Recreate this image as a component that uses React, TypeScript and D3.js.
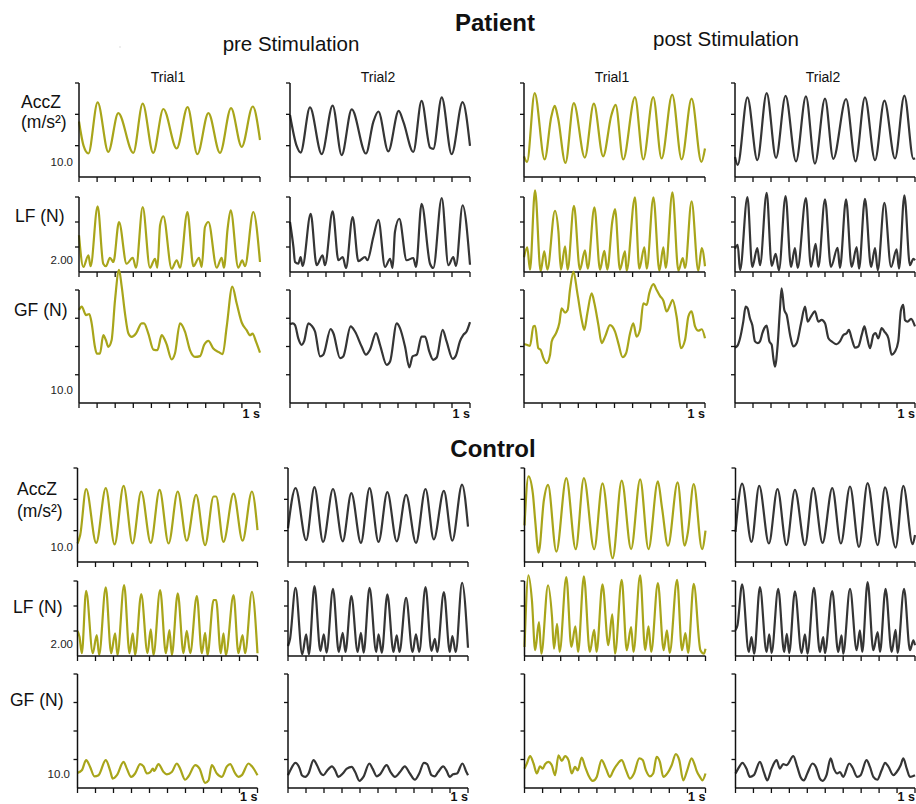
import { useEffect, useRef } from 'react';
import * as d3 from 'd3';

// time in ms (0-1000), value in y tick units
const P_PRE1_ACC = [[0,1.77],[25,1.0],[52,0.75],[103,2.38],[162,0.8],[217,2.04],[300,0.77],[352,2.34],[410,0.77],[466,2.17],[540,0.91],[600,2.23],[654,0.73],[715,2.04],[779,0.77],[840,2.2],[899,0.96],[960,2.25],[1000,1.18]];
const P_PRE2_ACC = [[0,1.98],[37,0.99],[59,0.78],[111,2.22],[176,0.73],[237,2.28],[287,0.7],[343,2.16],[422,0.75],[463,1.76],[491,2.09],[546,0.82],[604,2.11],[630,1.76],[685,0.8],[731,2.43],[778,0.94],[796,0.9],[843,2.54],[898,0.73],[959,2.39],[1000,0.99]];
const P_POST1_ACC = [[0,0.66],[17,0.48],[59,2.68],[114,0.56],[151,1.93],[170,2.27],[188,1.88],[229,0.45],[275,2.36],[336,0.62],[386,2.34],[437,0.66],[483,1.98],[506,2.3],[548,0.56],[613,2.55],[659,0.56],[714,2.55],[760,0.59],[819,2.63],[871,0.56],[926,2.5],[980,0.48],[1000,0.91]];
const P_POST2_ACC = [[0,0.64],[15,0.39],[69,2.54],[124,0.54],[176,2.68],[228,0.61],[281,2.59],[339,0.5],[394,2.57],[444,0.43],[500,2.5],[546,0.58],[617,2.49],[670,0.5],[722,2.54],[778,0.54],[830,2.44],[889,0.59],[941,2.6],[991,0.58],[1000,0.6]];

const P_PRE1_LF = [[0,1.47],[24,0.2],[52,0.67],[64,0.23],[103,2.63],[134,0.33],[149,0.23],[171,0.57],[190,0.4],[221,2.0],[263,0.33],[297,0.57],[315,0.17],[352,2.6],[392,0.17],[420,0.53],[433,0.17],[448,1.87],[466,2.23],[512,0.13],[540,0.47],[558,0.17],[599,2.4],[632,0.23],[663,0.57],[678,0.2],[696,1.8],[715,2.0],[761,0.17],[788,0.57],[801,0.17],[821,1.73],[838,2.47],[880,0.17],[902,0.47],[917,0.23],[963,2.4],[1000,0.4]];
const P_PRE2_LF = [[0,2.0],[19,1.0],[28,0.4],[46,0.33],[59,0.6],[70,0.24],[115,2.33],[148,0.27],[181,0.67],[194,0.27],[237,2.43],[269,0.47],[293,0.6],[311,0.16],[348,2.2],[380,0.43],[417,0.6],[430,0.47],[463,1.4],[491,2.09],[528,0.2],[556,0.53],[570,0.16],[583,1.6],[607,2.13],[648,0.47],[685,0.56],[700,0.2],[731,2.73],[778,0.33],[796,0.16],[843,2.96],[880,0.27],[907,0.6],[922,0.24],[959,2.67],[1000,0.29]];
const P_POST1_LF = [[0,0.59],[18,0.99],[33,0.09],[61,3.27],[92,0.03],[112,0.83],[129,0.09],[171,2.45],[190,1.63],[204,0.09],[227,1.03],[241,0.09],[276,2.65],[309,0.09],[337,0.87],[352,0.13],[389,2.59],[420,0.09],[444,0.85],[460,0.09],[488,2.03],[503,2.52],[530,0.09],[558,0.83],[567,0.05],[613,2.99],[637,0.13],[665,0.99],[678,0.13],[715,2.99],[748,0.05],[770,0.99],[783,0.16],[820,3.19],[853,0.05],[877,0.56],[890,0.16],[926,2.83],[963,0.05],[982,0.96],[1000,0.23]];
const P_POST2_LF = [[0,0.93],[15,1.09],[28,0.07],[69,3.0],[96,0.2],[124,0.96],[139,0.27],[176,3.17],[204,0.24],[226,0.73],[244,0.07],[281,3.04],[311,0.2],[333,0.96],[348,0.16],[394,2.96],[422,0.2],[448,1.13],[463,0.2],[500,2.91],[533,0.2],[570,0.97],[583,0.16],[617,2.91],[648,0.2],[676,1.0],[689,0.13],[722,2.93],[756,0.2],[778,0.96],[793,0.07],[830,2.77],[867,0.2],[898,0.91],[911,0.13],[941,3.07],[972,0.27],[991,0.53],[1000,0.47]];

const P_PRE1_GF = [[0,3.29],[15,3.41],[39,3.11],[57,3.15],[70,2.82],[88,1.99],[98,1.75],[116,1.75],[134,2.4],[149,2.22],[162,1.99],[180,2.22],[199,3.64],[221,4.71],[236,4.12],[254,3.17],[273,2.46],[291,2.34],[315,2.46],[346,2.82],[359,2.82],[383,2.46],[411,1.89],[433,1.87],[457,2.4],[475,2.22],[484,2.08],[512,1.54],[530,1.75],[558,2.82],[586,2.52],[613,1.87],[641,1.63],[669,1.66],[691,2.05],[715,2.2],[742,1.93],[770,1.81],[794,1.73],[816,2.7],[847,4.12],[871,3.53],[899,2.85],[926,2.58],[945,2.4],[959,2.46],[978,2.17],[1000,1.78]];
const P_PRE2_GF = [[0,2.79],[15,2.82],[28,2.76],[46,2.29],[65,2.06],[78,2.18],[102,2.82],[120,2.74],[139,2.53],[167,1.65],[185,1.71],[226,2.62],[241,2.47],[278,1.59],[296,1.65],[337,2.71],[361,2.53],[398,2.0],[422,1.71],[444,1.88],[478,2.47],[500,2.06],[537,1.35],[556,1.47],[593,2.82],[611,2.65],[639,2.0],[663,1.26],[681,1.65],[704,1.71],[731,2.35],[750,2.35],[774,1.82],[796,1.53],[815,1.61],[848,2.59],[870,2.18],[904,1.56],[922,1.68],[944,2.18],[963,2.41],[981,2.53],[1000,2.86]];
const P_POST1_GF = [[0,2.09],[15,2.06],[33,2.02],[52,2.71],[61,2.73],[79,1.94],[92,1.88],[107,1.59],[125,1.41],[144,1.71],[153,2.18],[177,2.47],[195,2.82],[208,3.35],[227,3.2],[241,3.29],[254,4.0],[273,4.65],[295,3.88],[319,2.94],[333,2.59],[350,3.18],[374,3.88],[389,3.53],[411,2.76],[429,2.12],[448,2.35],[475,2.76],[503,2.53],[521,2.12],[545,1.62],[564,1.76],[586,2.47],[604,2.82],[622,2.35],[641,2.59],[659,3.53],[678,3.47],[692,3.88],[715,4.21],[733,4.0],[751,3.79],[770,3.62],[788,3.24],[807,3.47],[821,3.65],[843,3.06],[867,1.94],[890,2.24],[908,3.06],[926,3.24],[945,2.71],[963,2.56],[982,2.61],[1000,2.29]];
const P_POST2_GF = [[0,1.96],[15,2.04],[28,2.29],[46,2.88],[59,3.41],[70,3.35],[83,3.0],[96,2.76],[111,2.18],[126,2.12],[139,2.18],[152,2.47],[163,2.65],[176,2.74],[191,2.18],[204,2.06],[213,1.59],[222,1.29],[237,2.06],[250,3.35],[259,4.06],[274,3.29],[287,3.12],[306,2.41],[324,2.0],[343,2.12],[367,2.82],[389,3.41],[404,2.88],[422,3.06],[444,3.24],[463,2.88],[481,2.94],[500,2.82],[519,2.29],[537,2.18],[565,2.08],[583,2.18],[602,2.41],[620,2.47],[633,2.59],[648,2.29],[667,1.96],[685,2.0],[704,2.41],[719,2.71],[731,2.41],[750,1.94],[769,2.41],[781,2.47],[796,2.29],[815,2.65],[830,2.53],[852,2.29],[870,1.71],[889,1.82],[907,2.18],[922,3.29],[935,3.47],[944,2.94],[959,2.88],[978,2.98],[1000,2.71]];

const C_PRE1_ACC = [[0,0.59],[15,0.86],[48,2.33],[104,0.61],[157,2.36],[206,0.56],[256,2.43],[306,0.59],[354,2.25],[407,0.61],[456,2.3],[506,0.59],[557,2.25],[607,0.68],[659,2.14],[709,0.54],[756,2.09],[770,2.09],[811,0.64],[867,2.18],[917,0.68],[969,2.25],[1000,1.02]];
const C_PRE2_ACC = [[0,1.07],[42,2.36],[101,0.7],[147,2.39],[195,0.64],[250,2.33],[304,0.66],[352,2.2],[405,0.61],[453,2.36],[503,0.64],[552,2.23],[604,0.66],[656,2.14],[711,0.61],[764,2.33],[810,0.72],[866,2.27],[913,0.68],[967,2.47],[1000,1.13]];
const C_POST1_ACC = [[0,1.17],[22,2.73],[46,2.19],[59,1.33],[78,0.3],[107,1.97],[130,2.46],[176,0.33],[231,2.68],[283,0.41],[328,2.68],[385,0.41],[431,2.51],[487,0.12],[537,2.6],[589,0.41],[639,2.64],[685,0.41],[737,2.57],[759,1.76],[793,0.52],[846,2.54],[885,0.52],[902,0.92],[935,2.49],[981,0.41],[1000,1.0]];
const C_POST2_ACC = [[0,0.96],[37,2.5],[89,0.64],[132,2.43],[186,0.59],[234,2.33],[284,0.54],[331,2.3],[387,0.54],[433,2.36],[485,0.61],[539,2.36],[587,0.59],[638,2.41],[688,0.48],[736,2.52],[792,0.54],[833,2.38],[892,0.46],[935,2.43],[987,0.57],[1000,0.86]];

const C_PRE1_LF = [[0,1.0],[11,0.77],[24,0.11],[48,2.61],[85,0.11],[107,0.84],[120,0.04],[157,2.75],[187,0.11],[209,0.91],[222,0.04],[259,2.84],[289,0.11],[307,0.91],[320,0.04],[354,2.48],[389,0.11],[407,1.07],[422,0.04],[459,2.64],[491,0.11],[511,1.04],[524,0.04],[557,2.51],[589,0.11],[607,1.01],[626,0.11],[663,2.4],[691,0.11],[709,0.93],[722,0.04],[756,2.24],[770,2.24],[796,0.11],[811,0.91],[824,0.04],[867,2.44],[894,0.11],[917,0.84],[931,0.11],[969,2.57],[1000,0.11]];
const C_PRE2_LF = [[0,0.4],[11,0.67],[42,2.73],[79,0.07],[101,0.87],[116,0.07],[147,2.8],[180,0.2],[199,0.87],[214,0.13],[250,2.69],[282,0.16],[304,0.93],[319,0.16],[352,2.4],[387,0.16],[405,0.93],[420,0.13],[453,2.73],[490,0.16],[503,0.87],[521,0.13],[552,2.47],[586,0.16],[604,0.83],[619,0.16],[656,2.33],[692,0.16],[711,0.87],[729,0.16],[764,2.76],[797,0.2],[816,0.69],[829,0.16],[866,2.56],[899,0.16],[913,0.8],[932,0.16],[967,2.93],[1000,0.33]];
const C_POST1_LF = [[0,0.36],[22,3.23],[41,2.23],[59,0.23],[80,1.36],[93,0.09],[130,2.83],[152,1.56],[163,0.29],[180,1.29],[194,0.16],[231,3.16],[259,0.36],[281,1.19],[296,0.16],[328,3.19],[361,0.16],[385,1.05],[398,0.16],[431,2.87],[463,0.43],[485,1.67],[500,0.09],[537,3.05],[565,0.23],[589,1.16],[602,0.16],[639,3.23],[667,0.23],[685,1.19],[700,0.16],[737,2.92],[769,0.23],[787,1.03],[802,0.12],[843,3.05],[870,0.23],[889,0.92],[904,0.12],[935,2.89],[972,0.23],[991,0.09],[1000,0.29]];
const C_POST2_LF = [[0,1.03],[11,1.23],[37,2.87],[74,0.16],[89,0.76],[104,0.09],[136,2.76],[173,0.16],[188,0.87],[201,0.12],[238,2.69],[271,0.16],[286,0.89],[299,0.12],[331,2.59],[368,0.12],[387,0.87],[401,0.09],[437,2.73],[470,0.16],[489,0.76],[498,0.12],[539,2.6],[572,0.16],[591,0.83],[600,0.09],[638,2.69],[675,0.23],[693,1.03],[706,0.16],[736,2.96],[768,0.23],[792,0.96],[805,0.16],[836,2.69],[870,0.16],[892,1.05],[903,0.12],[939,2.69],[972,0.23],[991,0.63],[1000,0.43]];

const C_PRE1_GF = [[0,0.53],[24,0.62],[48,0.98],[70,0.74],[94,0.41],[117,0.45],[157,0.98],[181,0.62],[196,0.33],[219,0.45],[256,0.92],[274,0.68],[298,0.39],[320,0.51],[348,0.84],[367,0.76],[385,0.51],[404,0.56],[419,0.68],[426,0.6],[450,0.84],[478,0.56],[496,0.48],[524,0.56],[552,0.86],[570,0.68],[598,0.29],[617,0.41],[654,0.8],[678,0.68],[709,0.18],[728,0.27],[746,0.8],[774,0.51],[802,0.39],[830,0.76],[848,0.84],[876,0.51],[894,0.39],[913,0.45],[950,0.86],[969,0.76],[1000,0.45]];
const C_PRE2_GF = [[0,0.45],[13,0.62],[41,0.88],[65,0.68],[77,0.45],[96,0.39],[114,0.51],[142,0.98],[161,0.8],[183,0.51],[197,0.45],[216,0.6],[244,0.76],[262,0.62],[280,0.39],[304,0.51],[327,0.68],[354,0.74],[373,0.56],[397,0.25],[419,0.39],[452,0.86],[470,0.68],[493,0.41],[511,0.48],[548,0.8],[570,0.56],[594,0.39],[622,0.56],[649,0.76],[677,0.51],[705,0.29],[729,0.51],[755,0.88],[773,0.84],[797,0.45],[815,0.41],[834,0.56],[862,0.76],[880,0.62],[899,0.39],[917,0.48],[939,0.51],[969,0.86],[991,0.56],[1000,0.45]];
const C_POST1_GF = [[0,0.68],[13,0.86],[31,1.12],[50,0.86],[68,0.51],[86,0.76],[101,0.68],[114,0.84],[132,0.92],[151,0.8],[169,0.45],[188,1.15],[206,0.95],[224,1.12],[243,0.98],[261,0.51],[279,0.74],[294,0.62],[316,1.07],[335,0.74],[353,0.45],[377,0.25],[399,0.39],[426,0.98],[450,0.68],[472,0.39],[491,0.62],[509,0.8],[537,0.98],[561,0.62],[583,0.33],[605,0.51],[634,1.04],[653,0.98],[671,0.62],[693,0.41],[711,0.51],[730,1.09],[748,0.92],[767,0.39],[789,0.51],[813,0.8],[836,1.19],[855,0.98],[877,0.27],[899,0.62],[923,1.04],[941,0.8],[950,0.62],[969,0.39],[983,0.27],[1000,0.51]];
const C_POST2_GF = [[0,0.51],[15,0.68],[39,0.88],[61,0.68],[80,0.39],[102,0.45],[136,0.92],[158,0.56],[177,0.27],[201,0.68],[229,0.98],[247,0.68],[266,0.84],[284,0.8],[322,1.12],[344,0.74],[362,0.39],[381,0.27],[400,0.51],[429,0.86],[448,0.74],[470,0.33],[485,0.25],[507,0.45],[530,1.04],[548,0.68],[567,0.51],[582,0.56],[600,0.39],[634,0.86],[652,0.72],[678,0.39],[697,0.45],[730,0.98],[749,0.74],[768,0.39],[790,0.29],[814,0.62],[833,0.88],[851,0.76],[879,0.45],[898,0.56],[920,0.8],[935,1.04],[954,0.68],[972,0.39],[1000,0.45]];

const GROUP_NAMES = ['Patient', 'Control'];
const PHASES = ['pre Stimulation', 'post Stimulation'];
const TRIALS = ['Trial1', 'Trial2', 'Trial1', 'Trial2'];
const ROW_LABELS = [['AccZ', '(m/s\u00b2)'], ['LF (N)'], ['GF (N)']];
const ROW_TICK_LABELS = ['10.0', '2.00', '10.0'];
const ROW_MAX = [3, 3, 4];
const TIME_TICKS = d3.range(0, 1001, 100);

const SERIES = [
    [
        [P_PRE1_ACC, P_PRE2_ACC, P_POST1_ACC, P_POST2_ACC],
        [P_PRE1_LF, P_PRE2_LF, P_POST1_LF, P_POST2_LF],
        [P_PRE1_GF, P_PRE2_GF, P_POST1_GF, P_POST2_GF],
    ],
    [
        [C_PRE1_ACC, C_PRE2_ACC, C_POST1_ACC, C_POST2_ACC],
        [C_PRE1_LF, C_PRE2_LF, C_POST1_LF, C_POST2_LF],
        [C_PRE1_GF, C_PRE2_GF, C_POST1_GF, C_POST2_GF],
    ],
];

// layout
const W = 916, H = 804;
const COLS = [
    [[79, 260], [290, 470], [524, 705], [735, 915]],
    [[77.5, 257.5], [288, 468], [524.5, 705.5], [735.5, 915]],
];
const ROWS = [
    [[83, 177], [197, 272], [290, 403]],
    [[468, 562], [581, 656], [674, 788]],
];
const COLORS = ['#a8a51a', '#353535', '#a8a51a', '#353535'];
const FONT = '"Liberation Sans", Arial, sans-serif';

export default function App() {
    const svgRef = useRef<SVGSVGElement>(null);

    useEffect(() => {
        const svg = d3.select(svgRef.current);
        svg.selectAll('*').remove();
        svg.append('rect').attr('width', W).attr('height', H).attr('fill', '#fff');

        const text = (x, y, s, size, opts: any = {}) =>
            svg.append('text')
                .attr('x', x).attr('y', y)
                .attr('text-anchor', opts.anchor || 'start')
                .style('font-family', FONT)
                .style('font-size', size + 'px')
                .style('font-weight', opts.bold ? 'bold' : 'normal')
                .style('fill', opts.fill || '#111')
                .text(s);

        // titles
        text(495, 31, GROUP_NAMES[0], 24, { anchor: 'middle', bold: true });
        text(493, 457, GROUP_NAMES[1], 24, { anchor: 'middle', bold: true });
        text(291, 51, PHASES[0], 20.5, { anchor: 'middle' });
        text(726, 46, PHASES[1], 20.5, { anchor: 'middle' });
        const trialX = [168, 378, 612, 823];
        TRIALS.forEach((t, i) => text(trialX[i], 82, t, 14, { anchor: 'middle' }));

        // stray mark in the scanned original
        svg.append('rect').attr('x', 119.5).attr('y', 46.5).attr('width', 1).attr('height', 1).attr('fill', '#bbb');

        // row labels
        const labelPos = [
            [[[21, 108], [21, 128]], [[15, 222]], [[14, 316]]],
            [[[17, 495], [17, 517]], [[13, 613]], [[10, 706]]],
        ];
        const tickLabelY = [[166, 264, 394], [551, 648, 778]];

        SERIES.forEach((group, g) => {
            group.forEach((row, r) => {
                ROW_LABELS[r].forEach((lab, k) => {
                    const [lx, ly] = labelPos[g][r][k];
                    text(lx, ly, lab, 17.5);
                });
                text(g === 1 && r === 2 ? 70 : 73, tickLabelY[g][r], ROW_TICK_LABELS[r], 11.5, { anchor: 'end', fill: '#222' });

                const [top, bottom] = ROWS[g][r];
                row.forEach((data, c) => {
                    const [x0, x1] = COLS[g][c];
                    const x = d3.scaleLinear().domain([0, 1000]).range([x0, x1]);
                    const y = d3.scaleLinear().domain([0, ROW_MAX[r]]).range([bottom, top]);
                    const pg = svg.append('g');

                    const line = d3.line<number[]>()
                        .x(d => x(d[0]))
                        .y(d => y(d[1]))
                        .curve(d3.curveMonotoneX);

                    pg.append('path')
                        .datum(data)
                        .attr('fill', 'none')
                        .attr('stroke', COLORS[c])
                        .attr('stroke-width', 2.2)
                        .attr('stroke-linejoin', 'round')
                        .attr('d', line);

                    // axes
                    pg.append('line')
                        .attr('x1', x0).attr('x2', x0).attr('y1', top).attr('y2', bottom)
                        .attr('stroke', '#111').attr('stroke-width', 1.5);
                    pg.append('line')
                        .attr('x1', x0).attr('x2', x1).attr('y1', bottom).attr('y2', bottom)
                        .attr('stroke', '#111').attr('stroke-width', 1.5);
                    pg.selectAll('.yt')
                        .data(d3.range(1, ROW_MAX[r] + 1))
                        .enter().append('line')
                        .attr('x1', x0 - 4).attr('x2', x0)
                        .attr('y1', d => y(d)).attr('y2', d => y(d))
                        .attr('stroke', '#111').attr('stroke-width', 1.3);
                    pg.selectAll('.xt')
                        .data(TIME_TICKS)
                        .enter().append('line')
                        .attr('x1', d => x(d)).attr('x2', d => x(d))
                        .attr('y1', bottom).attr('y2', bottom + 5)
                        .attr('stroke', '#111').attr('stroke-width', 1.3);

                    if (r === 2) {
                        text(x1, g === 1 ? bottom + 12.5 : bottom + 15, '1 s', 12.5, { anchor: 'end', bold: true });
                    }
                });
            });
        });
    }, []);

    return (
        <svg
            ref={svgRef}
            width={W}
            height={H}
            style={{ position: 'absolute', left: 0, top: 0 }}
        />
    );
}
